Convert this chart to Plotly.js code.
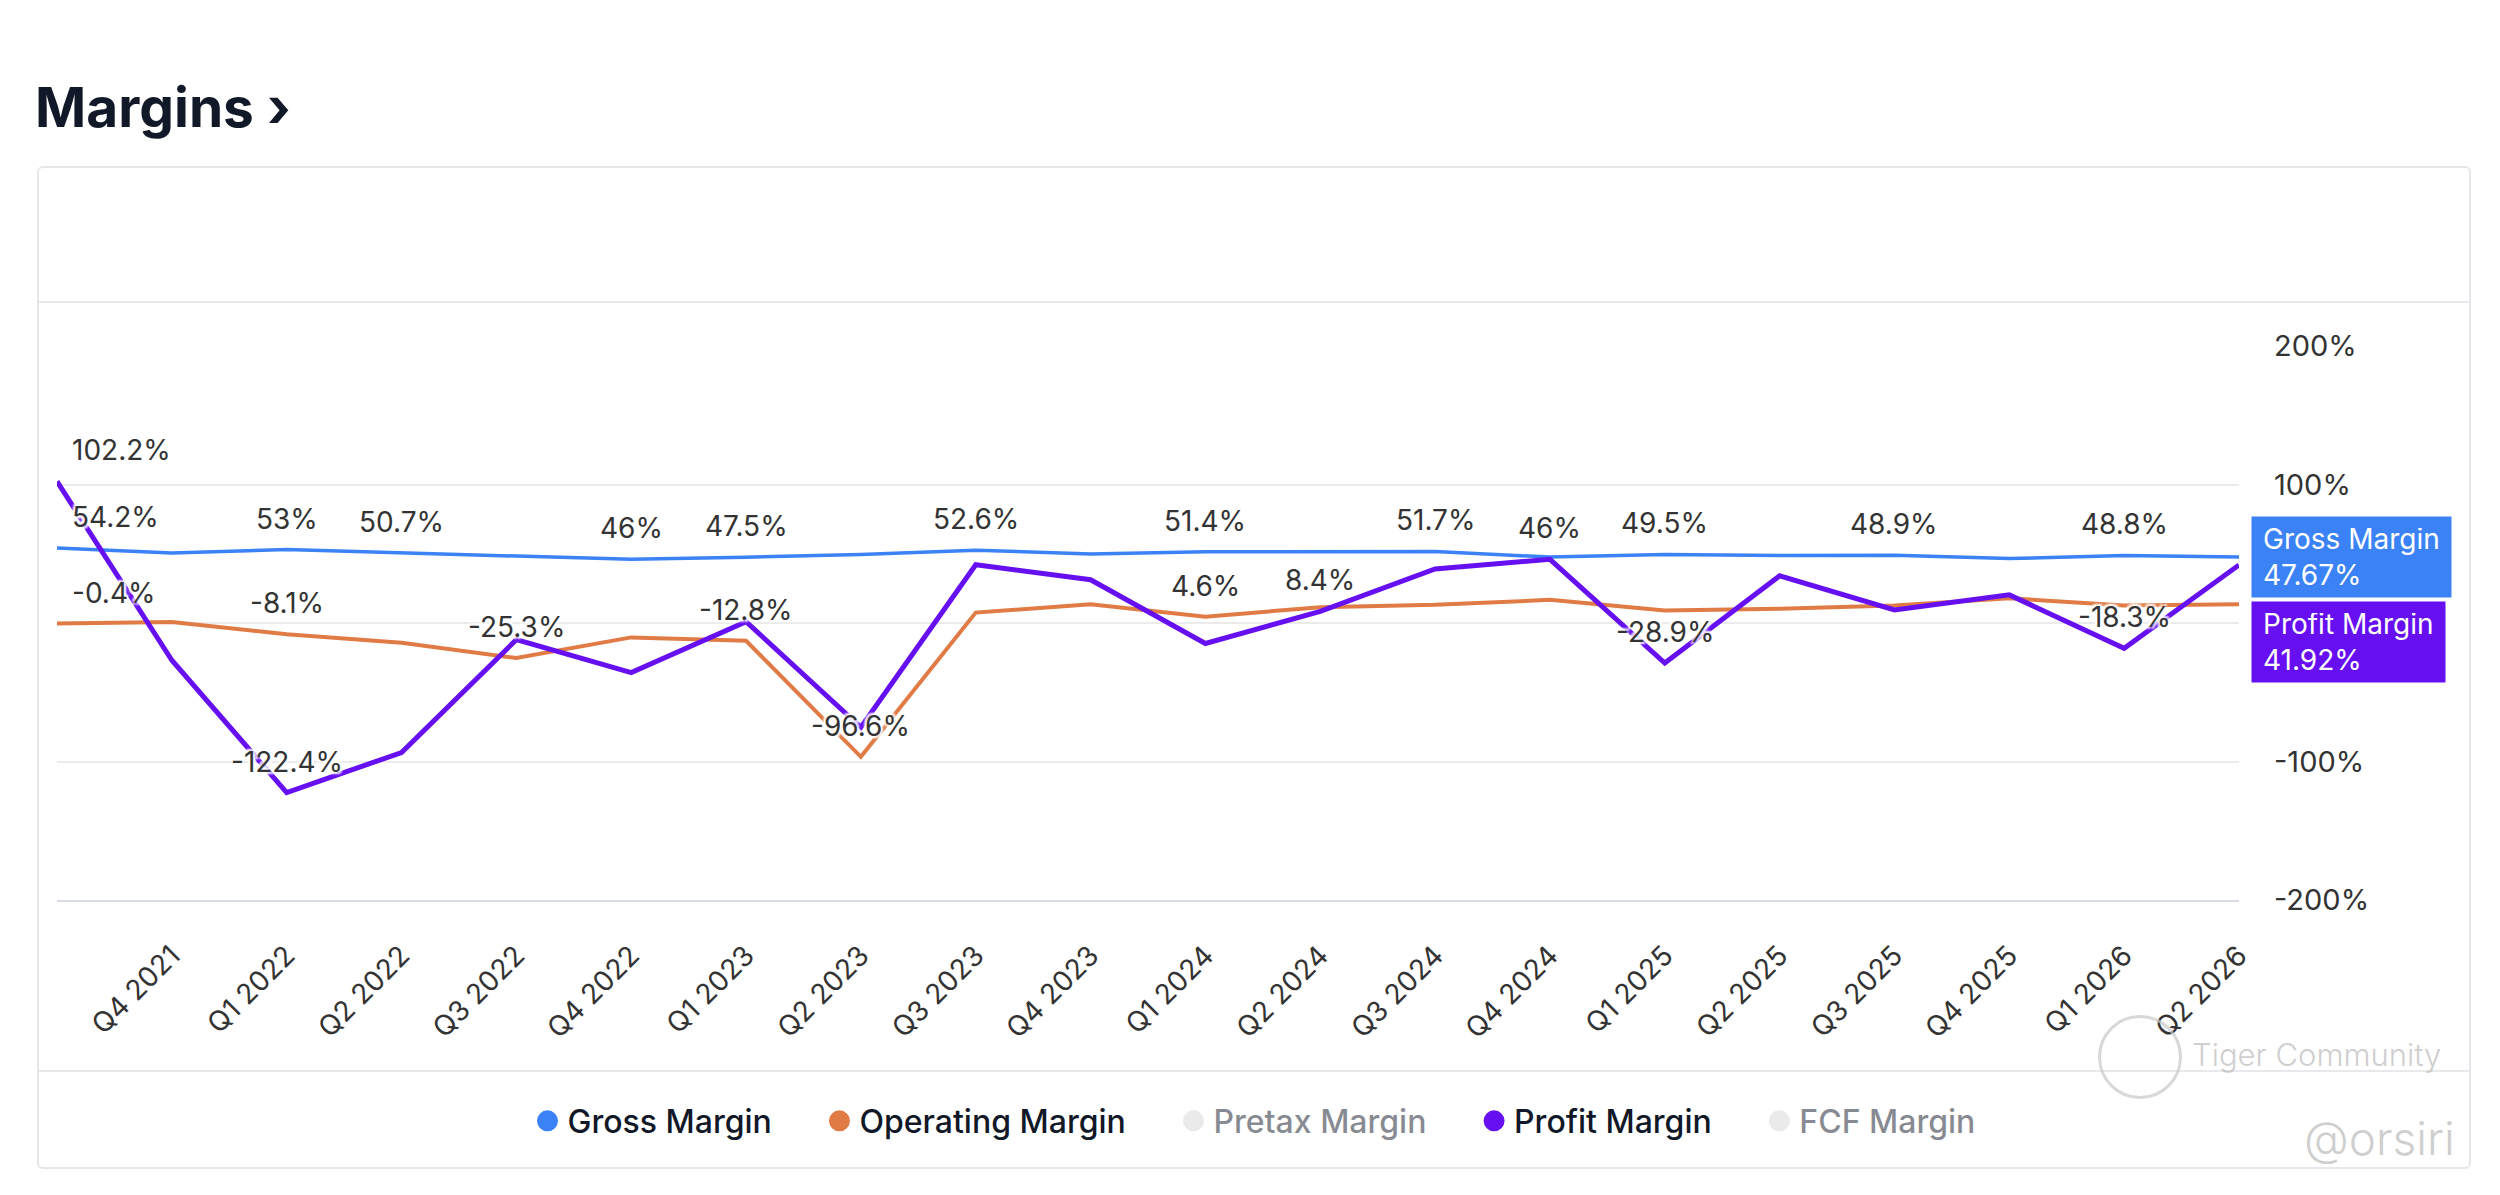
<!DOCTYPE html>
<html>
<head>
<meta charset="utf-8">
<script src="https://cdn.plot.ly/plotly-3.0.1.min.js"></script>
<style>
  html, body { margin: 0; padding: 0; background: #ffffff; }
  #wrap { position: relative; width: 2500px; height: 1195px; overflow: hidden; font-family: Inter, "Noto Sans", sans-serif; }
  #card { position: absolute; left: 37px; top: 166px; width: 2430px; height: 999px; border: 2px solid #e5e7eb; border-radius: 6px; }
  .sep { position: absolute; left: 39px; width: 2430px; height: 2px; background: #e8e9ec; }
  #chart { position: absolute; left: 0; top: 0; width: 2500px; height: 1195px; }
  .wm { position: absolute; color: rgba(190,190,190,0.75); font-family: Inter, sans-serif; font-weight: 300; white-space: nowrap; }
  #logo { position: absolute; left: 2098px; top: 1015px; width: 78px; height: 78px; border: 3px solid rgba(200,200,200,0.7); border-radius: 50%; }
</style>
</head>
<body>
<div id="wrap">
  <div id="card"></div>
  <div class="sep" style="top:301px"></div>
  <div class="sep" style="top:1070px"></div>
  <div id="chart"></div>
  <div id="logo"></div>
  <div class="wm" style="left:2192px; top:1036px; font-size:31px;">Tiger Community</div>
  <div class="wm" style="left:2304px; top:1110px; font-size:46px;">@orsiri</div>
</div>
<script>
// ---- data ----
const quarters = ['Q3 2021','Q4 2021','Q1 2022','Q2 2022','Q3 2022','Q4 2022','Q1 2023','Q2 2023','Q3 2023','Q4 2023',
                  'Q1 2024','Q2 2024','Q3 2024','Q4 2024','Q1 2025','Q2 2025','Q3 2025','Q4 2025','Q1 2026','Q2 2026'];
const xTickLabels = ['Q4 2021','Q1 2022','Q2 2022','Q3 2022','Q4 2022','Q1 2023','Q2 2023','Q3 2023','Q4 2023',
                     'Q1 2024','Q2 2024','Q3 2024','Q4 2024','Q1 2025','Q2 2025','Q3 2025','Q4 2025','Q1 2026','Q2 2026'];
const grossMargin     = [54.2, 50.6, 53.0, 50.7, 48.9, 46.0, 47.5, 49.4, 52.6, 49.9, 51.4, 51.5, 51.7, 47.6, 49.5, 48.7, 48.9, 46.5, 48.8, 47.67];
const operatingMargin = [-0.4, 0.7, -8.1, -14.3, -25.3, -10.4, -12.8, -96.6, 7.5, 13.6, 4.6, 11.4, 13.1, 16.7, 9.0, 10.3, 12.6, 17.9, 12.6, 13.6];
const profitMargin    = [102.2, -26.9, -122.4, -93.5, -12.0, -35.8, 1.0, -75.3, 42.1, 31.2, -14.8, 8.4, 39.0, 46.0, -28.9, 34.1, 9.4, 20.3, -18.3, 41.92];
const grossLabelIdx     = [0, 2, 3, 5, 6, 8, 10, 12, 14, 16, 18];
const operatingLabelIdx = [0, 2, 4, 6, 7, 10];
const profitLabelIdx    = [0, 2, 11, 13, 14, 18];
const yTickVals   = [-200, -100, 0, 100, 200];
const yTickLabels = ['-200%', '-100%', '', '100%', '200%'];
const seriesNames  = ['Gross Margin', 'Operating Margin', 'Pretax Margin', 'Profit Margin', 'FCF Margin'];
const seriesColors = ['#3b82f6', '#e07b45', '#d6d6d6', '#6610f2', '#d6d6d6'];
const seriesShown  = [true, true, false, true, false];

// ---- styling ----
const FONT = 'Inter, "Noto Sans", sans-serif';
const plotTop = 346, plotBottom = 900, plotLeft = 57, plotRight = 2238.6;
const yRange = [-200, 200];
const lineWidths = [3.5, 4, 5];

const lineSeries = [
  {name: seriesNames[0], values: grossMargin, color: seriesColors[0], labels: grossLabelIdx},
  {name: seriesNames[1], values: operatingMargin, color: seriesColors[1], labels: operatingLabelIdx},
  {name: seriesNames[3], values: profitMargin, color: seriesColors[3], labels: profitLabelIdx}
];

const traces = [];
lineSeries.forEach((s, k) => {
  traces.push({
    type: 'scatter', mode: 'lines', x: quarters, y: s.values, name: s.name,
    line: {color: s.color, width: lineWidths[k]}, showlegend: false, hoverinfo: 'skip'
  });
});
const legendPad = '\u00a0\u00a0\u00a0\u00a0\u00a0';
seriesNames.forEach((n, i) => {
  traces.push({
    type: 'scatter', mode: 'markers', x: [null], y: [null],
    name: n + (i < seriesNames.length - 1 ? legendPad : ''),
    visible: seriesShown[i] ? true : 'legendonly',
    marker: {color: seriesColors[i], size: 16, line: {color: seriesColors[i], width: 5}},
    showlegend: true, hoverinfo: 'skip'
  });
});

const labelFont = {family: FONT, size: 28, color: '#333333',
  shadow: '2px 2px 2px #fff, -2px -2px 2px #fff, 2px -2px 2px #fff, -2px 2px 2px #fff'};
const annotations = [];
lineSeries.forEach(s => {
  s.labels.forEach(i => {
    annotations.push({
      x: quarters[i], y: s.values[i], xref: 'x', yref: 'y',
      text: s.values[i] + '%', showarrow: false,
      xanchor: i === 0 ? 'left' : 'center', xshift: i === 0 ? 13 : 0,
      yanchor: 'middle', yshift: 31, font: labelFont
    });
  });
});

// end badges
const last = quarters.length - 1;
const badgeH = 58, badgePad = 11, badgeGap = 5;
const pxPerUnit = (plotBottom - plotTop) / (yRange[1] - yRange[0]);
const gap = (grossMargin[last] - profitMargin[last]) * pxPerUnit;
const badgeOuter = badgeH + 2 * badgePad;
const badgeFont = {family: FONT, size: 28, color: '#ffffff'};
annotations.push({
  x: quarters[last], y: grossMargin[last], xref: 'x', yref: 'y', showarrow: false,
  text: seriesNames[0] + '<br>' + grossMargin[last] + '%', align: 'left', valign: 'middle',
  xanchor: 'left', xshift: 12, yanchor: 'middle',
  bgcolor: seriesColors[0], borderpad: badgePad, height: badgeH, font: badgeFont
});
annotations.push({
  x: quarters[last], y: profitMargin[last], xref: 'x', yref: 'y', showarrow: false,
  text: seriesNames[3] + '<br>' + profitMargin[last] + '%', align: 'left', valign: 'middle',
  xanchor: 'left', xshift: 12, yanchor: 'middle', yshift: -(badgeOuter + badgeGap - gap),
  bgcolor: seriesColors[3], borderpad: badgePad, height: badgeH, font: badgeFont
});

const layout = {
  width: 2500, height: 1195,
  paper_bgcolor: 'rgba(0,0,0,0)', plot_bgcolor: 'rgba(0,0,0,0)',
  margin: {l: plotLeft, r: 2500 - plotRight, t: plotTop, b: 1195 - plotBottom, autoexpand: false},
  title: {
    text: 'Margins ›', xref: 'container', yref: 'container', x: 35 / 2500, xanchor: 'left',
    y: 1 - 108 / 1195, yanchor: 'middle',
    font: {family: FONT, size: 55, weight: 700, color: '#111827'}
  },
  xaxis: {
    type: 'category', range: [0, last], showgrid: false, zeroline: false,
    showline: true, linecolor: '#d6dbe4', linewidth: 2,
    tickmode: 'array', tickvals: xTickLabels, ticktext: xTickLabels, tickangle: -45,
    ticks: '', ticklabelstandoff: 26,
    tickfont: {family: FONT, size: 28, color: '#333333'}, fixedrange: true
  },
  yaxis: {
    range: yRange, side: 'right', showgrid: true, gridcolor: '#ebebeb', gridwidth: 2, zeroline: false,
    tickmode: 'array', tickvals: yTickVals, ticktext: yTickLabels, ticks: '', ticklabelstandoff: 34,
    tickfont: {family: FONT, size: 29, color: '#333333'}, fixedrange: true
  },
  legend: {
    orientation: 'h', xref: 'container', yref: 'container', x: 1254 / 2500, xanchor: 'center',
    y: 1 - 1121 / 1195, yanchor: 'middle', bgcolor: 'rgba(0,0,0,0)',
    font: {family: FONT, size: 32, weight: 500, color: '#111827'}, itemwidth: 30, itemclick: false, itemdoubleclick: false
  },
  annotations: annotations,
  showlegend: true,
  hovermode: false
};

Plotly.newPlot('chart', traces, layout, {displayModeBar: false, staticPlot: true});
</script>
</body>
</html>
